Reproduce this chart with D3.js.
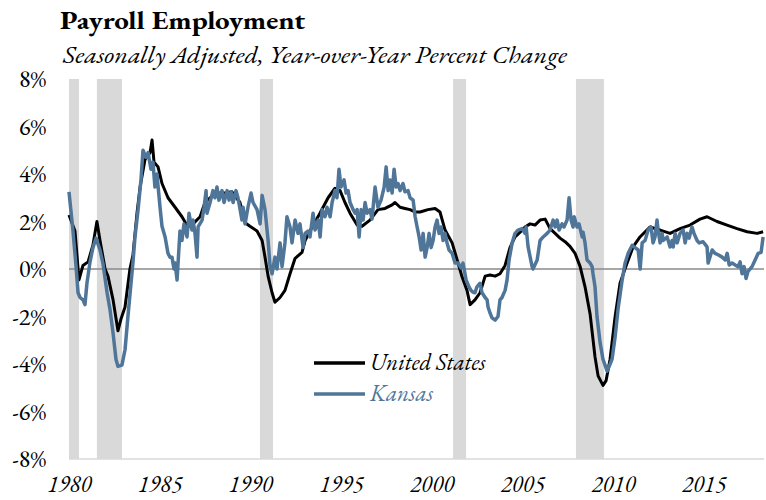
<!DOCTYPE html>
<html>
<head>
<meta charset="utf-8">
<script src="https://cdn.jsdelivr.net/npm/d3@7"></script>
<style>
  html, body { margin: 0; padding: 0; background: #fff; }
  svg { display: block; }
  text { font-family: "EB Garamond", "Liberation Serif", "Times New Roman", serif; }
</style>
</head>
<body>
<svg id="chart" width="766" height="500"></svg>
<script>
// ---------------- DATA ----------------
const titleText = "Payroll Employment";
const subtitleText = "Seasonally Adjusted, Year-over-Year Percent Change";
const seriesNames = ["United States", "Kansas"];
const yTicks = [-8, -6, -4, -2, 0, 2, 4, 6, 8];
const xTicks = [1980, 1985, 1990, 1995, 2000, 2005, 2010, 2015];

// recessions [start, end] in decimal years
const recessionStarts = [1980.0, 1981.54, 1990.53, 2001.18, 2007.96];
const recessionEnds   = [1980.55, 1982.92, 1991.25, 2001.9, 2009.5];

const usYears = [1980.00,1980.33,1980.55,1980.77,1981.05,1981.32,1981.54,1981.71,1981.99,1982.15,1982.43,1982.70,1982.87,1983.09,1983.36,1983.53,1983.75,1983.92,1984.19,1984.47,1984.58,1984.69,1984.91,1985.13,1985.46,1985.85,1986.23,1986.56,1986.84,1987.23,1987.50,1987.78,1988.22,1988.60,1988.99,1989.43,1989.71,1989.98,1990.37,1990.65,1990.81,1990.98,1991.20,1991.36,1991.64,1991.91,1992.19,1992.47,1992.85,1993.02,1993.29,1993.84,1994.29,1994.67,1994.95,1995.22,1995.50,1995.89,1996.16,1996.60,1997.04,1997.43,1997.82,1997.98,1998.26,1998.53,1998.81,1999.08,1999.36,1999.80,2000.19,2000.46,2000.74,2001.13,2001.40,2001.68,2001.95,2002.12,2002.39,2002.67,2002.95,2003.22,2003.50,2003.77,2004.05,2004.32,2004.60,2004.88,2005.15,2005.43,2005.70,2005.98,2006.26,2006.53,2006.81,2007.08,2007.36,2007.63,2007.91,2008.19,2008.46,2008.74,2009.01,2009.18,2009.45,2009.62,2009.84,2010.12,2010.39,2010.78,2011.11,2011.49,2012.04,2012.60,2013.15,2013.70,2014.25,2014.80,2015.19,2015.74,2016.29,2016.84,2017.40,2017.95,2018.28];
const usValues = [2.27,1.6,-0.46,0.15,0.3,1.0,2.0,1.2,0.0,-0.3,-1.3,-2.6,-2.1,-1.6,0.0,0.6,2.35,3.45,4.6,4.9,5.43,4.5,4.3,3.6,3.0,2.6,2.2,1.77,1.9,2.2,2.8,3.0,3.2,3.2,3.25,2.8,1.95,1.8,1.6,1.2,0.5,-0.3,-1.0,-1.4,-1.2,-0.9,-0.2,0.45,0.7,1.2,1.6,2.35,3.0,3.4,3.3,2.8,2.35,1.85,1.8,2.06,2.5,2.55,2.7,2.8,2.6,2.55,2.5,2.4,2.4,2.5,2.55,2.4,1.64,1.1,0.4,-0.34,-0.9,-1.5,-1.3,-1.0,-0.3,-0.25,-0.3,-0.2,0.15,0.9,1.35,1.55,1.77,1.9,1.85,2.06,2.1,1.7,1.5,1.3,1.15,0.95,0.66,0.1,-0.75,-1.9,-3.7,-4.5,-4.9,-4.7,-3.8,-2.0,-0.6,0.25,0.93,1.35,1.77,1.64,1.5,1.7,1.85,2.1,2.2,2.0,1.85,1.7,1.57,1.5,1.57];

const ksYears = [1980.00,1980.22,1980.39,1980.50,1980.61,1980.77,1980.88,1980.99,1981.16,1981.32,1981.49,1981.71,1981.88,1982.10,1982.26,1982.43,1982.59,1982.70,1982.92,1983.09,1983.25,1983.42,1983.53,1983.64,1983.81,1983.97,1984.08,1984.25,1984.36,1984.52,1984.63,1984.74,1984.85,1985.02,1985.13,1985.30,1985.46,1985.57,1985.68,1985.79,1985.85,1985.96,1986.12,1986.23,1986.34,1986.51,1986.62,1986.78,1986.84,1986.95,1987.06,1987.12,1987.34,1987.45,1987.56,1987.61,1987.78,1987.94,1988.05,1988.16,1988.27,1988.44,1988.55,1988.72,1988.83,1988.94,1989.05,1989.21,1989.32,1989.54,1989.60,1989.71,1989.87,1990.04,1990.15,1990.37,1990.54,1990.65,1990.81,1990.98,1991.09,1991.20,1991.36,1991.47,1991.64,1991.75,1991.91,1992.02,1992.19,1992.30,1992.47,1992.63,1992.74,1992.91,1993.02,1993.18,1993.29,1993.46,1993.57,1993.74,1993.85,1993.96,1994.12,1994.23,1994.40,1994.51,1994.67,1994.78,1994.89,1995.00,1995.17,1995.28,1995.39,1995.50,1995.67,1995.78,1995.89,1996.00,1996.11,1996.22,1996.33,1996.44,1996.60,1996.71,1996.88,1997.04,1997.21,1997.38,1997.49,1997.60,1997.71,1997.82,1997.93,1998.04,1998.15,1998.26,1998.42,1998.53,1998.70,1998.81,1998.98,1999.09,1999.20,1999.31,1999.42,1999.53,1999.64,1999.75,1999.86,1999.97,2000.08,2000.19,2000.30,2000.41,2000.52,2000.63,2000.74,2000.85,2000.96,2001.13,2001.29,2001.46,2001.62,2001.73,2001.90,2002.06,2002.17,2002.28,2002.39,2002.50,2002.67,2002.78,2002.95,2003.06,2003.11,2003.22,2003.33,2003.50,2003.66,2003.77,2003.88,2004.05,2004.16,2004.27,2004.44,2004.60,2004.77,2004.99,2005.15,2005.21,2005.32,2005.54,2005.59,2005.82,2005.98,2006.15,2006.37,2006.53,2006.70,2006.81,2006.92,2007.03,2007.19,2007.30,2007.47,2007.58,2007.69,2007.80,2007.86,2008.02,2008.13,2008.30,2008.35,2008.46,2008.57,2008.74,2008.85,2008.90,2009.01,2009.12,2009.29,2009.45,2009.68,2009.79,2009.95,2010.12,2010.28,2010.50,2010.67,2010.84,2011.06,2011.22,2011.39,2011.50,2011.61,2011.77,2011.94,2012.10,2012.21,2012.32,2012.43,2012.49,2012.60,2012.71,2012.77,2012.99,2013.15,2013.26,2013.32,2013.43,2013.54,2013.70,2013.87,2013.98,2014.09,2014.20,2014.36,2014.47,2014.64,2014.75,2014.97,2015.19,2015.25,2015.47,2015.63,2015.80,2016.02,2016.19,2016.30,2016.41,2016.57,2016.74,2016.90,2017.01,2017.12,2017.23,2017.34,2017.45,2017.67,2017.84,2018.01,2018.17,2018.28];
const ksValues = [3.25,1.6,0.1,-1.0,-1.2,-1.3,-1.5,-0.6,0.3,0.9,1.3,0.8,0.2,-1.0,-1.7,-2.7,-3.8,-4.1,-4.05,-3.4,-2.0,-0.6,0.3,1.35,2.5,3.75,5.0,4.7,4.9,4.2,4.5,3.45,4.0,2.6,1.8,1.35,0.66,0.5,0.5,0.0,0.25,-0.46,1.6,1.2,1.9,1.35,2.35,1.64,2.06,1.5,0.5,1.77,2.06,2.6,3.3,2.35,2.8,3.3,3.0,3.45,2.9,3.3,2.8,3.3,2.9,3.25,2.8,3.3,3.0,2.06,2.6,1.9,2.6,3.2,2.8,2.5,1.9,3.1,2.5,1.2,0.1,-0.2,0.5,0.0,1.1,0.1,1.1,2.2,1.77,1.1,2.06,1.5,1.9,0.9,1.5,1.6,1.35,2.35,1.64,2.06,1.35,2.5,2.2,2.6,2.2,2.8,3.3,3.0,4.2,3.45,3.75,3.2,3.3,2.8,2.5,2.35,2.5,1.35,2.5,2.06,2.8,2.35,2.5,2.1,3.45,2.6,2.9,3.45,4.3,3.3,3.75,3.2,4.2,3.45,3.6,3.3,3.6,3.25,3.3,3.0,2.9,2.2,1.77,1.35,0.8,1.5,0.5,0.9,1.5,0.9,1.2,1.77,2.06,1.5,1.77,1.2,1.5,1.1,0.8,0.66,0.25,0.25,0.05,0.25,-0.46,-0.75,-0.9,-0.97,-1.0,-0.75,-0.6,-1.0,-1.2,-1.3,-1.6,-1.85,-2.06,-2.15,-2.0,-1.3,-1.2,-0.9,-0.46,0.38,1.1,1.5,1.64,1.7,1.5,1.77,0.93,0.1,0.0,0.38,1.2,1.35,1.5,1.64,2.06,1.77,2.06,1.64,1.9,1.77,2.06,3.0,2.06,1.77,2.2,1.77,1.9,1.35,1.55,1.1,0.38,0.25,0.1,-0.2,-0.75,-2.0,-3.1,-3.8,-4.3,-4.1,-3.8,-2.85,-1.7,-0.5,0.25,0.66,1.0,0.9,0.8,0.0,1.1,1.2,1.64,1.77,1.1,1.35,2.06,1.64,1.1,1.5,1.2,1.35,0.93,1.2,0.93,1.5,1.1,1.5,1.64,1.1,1.5,1.3,1.77,1.5,1.2,1.1,1.15,0.93,0.25,0.8,0.66,0.6,0.5,0.38,0.66,0.17,0.25,0.17,0.1,0.3,-0.2,0.1,-0.4,-0.1,0.1,0.38,0.66,0.7,1.35];

// ---------------- CHART ----------------
const svg = d3.select("#chart");
const plot = { left: 69, right: 764, top: 79, bottom: 459 };
const usColor = "#000000";
const ksColor = "#4f7599";

const x = d3.scaleLinear().domain([1980, 2018.33]).range([plot.left, plot.right]);
const y = d3.scaleLinear().domain([-8, 8]).range([plot.bottom, plot.top]);

// title
svg.append("text")
  .attr("x", 60).attr("y", 29)
  .style("font-size", "24px").style("font-weight", "bold")
  .attr("textLength", 245).attr("lengthAdjust", "spacingAndGlyphs")
  .text(titleText);
svg.append("text")
  .attr("x", 63).attr("y", 63)
  .style("font-size", "24px").style("font-style", "italic")
  .attr("textLength", 504).attr("lengthAdjust", "spacingAndGlyphs")
  .text(subtitleText);

// recession bars
svg.append("g").selectAll("rect")
  .data(recessionStarts.map((s, i) => [s, recessionEnds[i]]))
  .join("rect")
  .attr("x", d => x(d[0]))
  .attr("width", d => x(d[1]) - x(d[0]))
  .attr("y", y(8))
  .attr("height", y(-8) - y(8))
  .attr("fill", "#d9d9d9");

// bottom axis line
svg.append("line")
  .attr("x1", plot.left).attr("x2", plot.right)
  .attr("y1", y(-8)).attr("y2", y(-8))
  .attr("stroke", "#d9d9d9").attr("stroke-width", 1.5);

// zero line
svg.append("line")
  .attr("x1", plot.left).attr("x2", plot.right)
  .attr("y1", y(0)).attr("y2", y(0))
  .attr("stroke", "#8a8a8a").attr("stroke-width", 1.5);

// y axis
const yAxis = svg.append("g")
  .attr("transform", `translate(${plot.left - 23},0)`)
  .call(d3.axisLeft(y).tickValues(yTicks).tickFormat(d => d + "%").tickSize(0).tickPadding(0));
yAxis.select(".domain").remove();
yAxis.selectAll("text")
  .style("font-size", "24px")
  .attr("fill", "#000")
  .attr("dy", "0.33em");

// x axis
const xAxis = svg.append("g")
  .attr("transform", `translate(0,${plot.bottom})`)
  .call(d3.axisBottom(x).tickValues(xTicks).tickFormat(d3.format("d")).tickSize(0).tickPadding(0));
xAxis.select(".domain").remove();
xAxis.selectAll("text")
  .style("font-size", "23px")
  .style("font-style", "italic")
  .attr("fill", "#000")
  .attr("dy", null)
  .attr("y", 33);

// lines
const line = d3.line().x(d => x(d[0])).y(d => y(d[1]));
const usData = usYears.map((t, i) => [t, usValues[i]]);
const ksData = ksYears.map((t, i) => [t, ksValues[i]]);

svg.append("path").datum(usData)
  .attr("d", line).attr("fill", "none")
  .attr("stroke", usColor).attr("stroke-width", 3)
  .attr("stroke-linejoin", "round");
svg.append("path").datum(ksData)
  .attr("d", line).attr("fill", "none")
  .attr("stroke", ksColor).attr("stroke-width", 3.5)
  .attr("stroke-linejoin", "round");

// legend
const legend = svg.append("g");
const legendItems = [
  { name: seriesNames[0], color: usColor, yy: 363 },
  { name: seriesNames[1], color: ksColor, yy: 394 }
];
legendItems.forEach(it => {
  legend.append("line")
    .attr("x1", 314).attr("x2", 365)
    .attr("y1", it.yy).attr("y2", it.yy)
    .attr("stroke", it.color).attr("stroke-width", 3.5);
  legend.append("text")
    .attr("x", 370).attr("y", it.yy + 7)
    .style("font-size", "23px").style("font-style", "italic")
    .attr("fill", it.color)
    .text(it.name);
});
</script>
</body>
</html>
